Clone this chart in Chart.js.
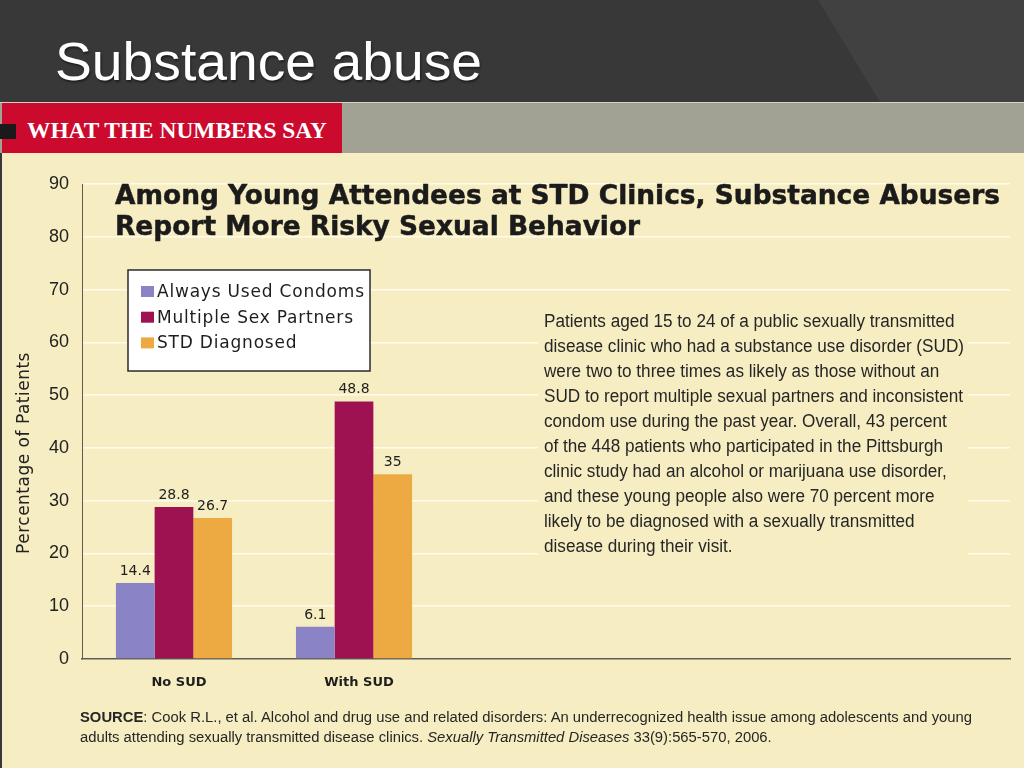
<!DOCTYPE html>
<html>
<head>
<meta charset="utf-8">
<title>Substance abuse</title>
<script src="https://cdn.jsdelivr.net/npm/chart.js@4.4.1/dist/chart.umd.min.js"></script>
<style>
  html, body { margin: 0; padding: 0; }
  body { width: 1024px; height: 768px; position: relative; overflow: hidden; background: #383838; font-family: "Liberation Sans", Arial, sans-serif; }
  #hdr2 { position: absolute; left: 0; top: 0; width: 1024px; height: 102px; background: #414141; clip-path: polygon(818px 0, 1024px 0, 1024px 102px, 880px 102px); }
  #slideTitle { position: absolute; left: 55px; top: 34px; font-size: 54px; line-height: 54px; color: #fff; white-space: nowrap; text-shadow: 1px 2px 2px rgba(0,0,0,0.45); }
  #strip { position: absolute; left: 0; top: 102px; width: 1024px; height: 51px; background: #a1a194; border-top: 1px solid #d4d4cb; box-sizing: border-box; }
  #redbox { position: absolute; left: 2px; top: 103px; width: 340px; height: 50px; background: #cc0a2e; }
  #blk { position: absolute; left: 0; top: 124px; width: 16px; height: 15px; background: #1a1a1a; }
  #banner { position: absolute; left: 27px; top: 119px; font-family: "Liberation Serif", "Times New Roman", serif; font-weight: bold; font-size: 23px; line-height: 23px; color: #fff; white-space: nowrap; }
  #panel { position: absolute; left: 2px; top: 153px; width: 1022px; height: 615px; background: #f7edc2; }
  #chartWrap { position: absolute; left: 0; top: 0; width: 1024px; height: 768px; }
  #chartTitle { position: absolute; left: 115px; top: 179px; font-family: "DejaVu Sans", Verdana, sans-serif; font-weight: bold; font-size: 26.5px; line-height: 31px; color: #1b1b1b; white-space: nowrap; -webkit-text-stroke: 0.5px #1b1b1b; }
  #chartTitle span, #para span, #source span { display: inline-block; white-space: nowrap; }
  #paraBox { position: absolute; left: 538px; top: 305px; width: 430px; height: 253px; background: #f7edc2; }
  #para { position: absolute; left: 544px; top: 309px; font-family: "Liberation Sans", Arial, sans-serif; font-size: 18px; line-height: 25px; color: #262626; white-space: nowrap; }
  #source { position: absolute; left: 80px; top: 707px; font-family: "Liberation Sans", Arial, sans-serif; font-size: 14px; line-height: 20px; color: #262626; white-space: nowrap; }
</style>
</head>
<body>
<div id="hdr2"></div>
<div id="slideTitle"><span id="slideTitleText">Substance abuse</span></div>
<div id="strip"></div>
<div id="redbox"></div>
<div id="blk"></div>
<div id="banner"><span id="bannerText">WHAT THE NUMBERS SAY</span></div>
<div id="panel"></div>
<div id="chartWrap"><canvas id="c" width="1024" height="768"></canvas></div>
<div id="chartTitle">
  <div><span id="titleL1">Among Young Attendees at STD Clinics, Substance Abusers</span></div>
  <div><span>Report More Risky Sexual Behavior</span></div>
</div>
<div id="paraBox"></div>
<div id="para">
  <div><span>Patients aged 15 to 24 of a public sexually transmitted</span></div>
  <div><span>disease clinic who had a substance use disorder (SUD)</span></div>
  <div><span>were two to three times as likely as those without an</span></div>
  <div><span id="paraL4">SUD to report multiple sexual partners and inconsistent</span></div>
  <div><span>condom use during the past year. Overall, 43 percent</span></div>
  <div><span>of the 448 patients who participated in the Pittsburgh</span></div>
  <div><span>clinic study had an alcohol or marijuana use disorder,</span></div>
  <div><span>and these young people also were 70 percent more</span></div>
  <div><span>likely to be diagnosed with a sexually transmitted</span></div>
  <div><span>disease during their visit.</span></div>
</div>
<div id="source">
  <div><span id="srcL1"><b>SOURCE</b>: Cook R.L., et al. Alcohol and drug use and related disorders: An underrecognized health issue among adolescents and young</span></div>
  <div><span>adults attending sexually transmitted disease clinics. <i>Sexually Transmitted Diseases</i> 33(9):565-570, 2006.</span></div>
</div>

<script>
// ---- data ----
const categories = ['No SUD', 'With SUD'];
const seriesNames = ['Always Used Condoms', 'Multiple Sex Partners', 'STD Diagnosed'];
const alwaysUsedCondoms = [14.4, 6.1];
const multipleSexPartners = [28.8, 48.8];
const stdDiagnosed = [26.7, 35];
const yTicks = [0, 10, 20, 30, 40, 50, 60, 70, 80, 90];
const seriesColors = ['#8a83c5', '#9f1252', '#eeaa42'];

// ---- text fitting for HTML overlays ----
function fitTo(boxId, measureId, targetW) {
  const box = document.getElementById(boxId);
  const m = document.getElementById(measureId);
  const w = m.getBoundingClientRect().width;
  if (w > 0) {
    box.style.transformOrigin = '0 0';
    box.style.transform = 'scaleX(' + (targetW / w) + ')';
  }
}
fitTo('slideTitle', 'slideTitleText', 427);
fitTo('banner', 'bannerText', 300);
fitTo('chartTitle', 'titleL1', 885);
fitTo('para', 'paraL4', 419);
fitTo('source', 'srcL1', 892);

// ---- plugins ----
const valueLabels = {
  id: 'valueLabels',
  afterDatasetsDraw(chart) {
    const ctx = chart.ctx;
    ctx.save();
    ctx.font = '14px "DejaVu Sans", Verdana, sans-serif';
    ctx.fillStyle = '#1e1e1e';
    ctx.textAlign = 'center';
    ctx.textBaseline = 'alphabetic';
    chart.data.datasets.forEach((ds, di) => {
      chart.getDatasetMeta(di).data.forEach((el, i) => {
        const v = ds.data[i].y;
        ctx.fillText(String(v), el.x, el.y - 8);
      });
    });
    ctx.restore();
  }
};

const boxLegend = {
  id: 'boxLegend',
  afterDraw(chart) {
    const ctx = chart.ctx;
    ctx.save();
    ctx.fillStyle = '#ffffff';
    ctx.fillRect(128, 270, 242, 101);
    ctx.strokeStyle = '#2a2a2a';
    ctx.lineWidth = 1.5;
    ctx.strokeRect(128, 270, 242, 101);
    ctx.font = '17px "DejaVu Sans", Verdana, sans-serif';
    if ('letterSpacing' in ctx) ctx.letterSpacing = '0.8px';
    ctx.textBaseline = 'alphabetic';
    ctx.textAlign = 'left';
    chart.data.datasets.forEach((ds, i) => {
      const base = 297 + 25.7 * i;
      ctx.fillStyle = ds.backgroundColor;
      ctx.fillRect(141, base - 11, 13, 11);
      ctx.fillStyle = '#1e1e1e';
      ctx.fillText(ds.label, 157, base);
    });
    ctx.restore();
  }
};

const yAxisTitle = {
  id: 'yAxisTitle',
  afterDraw(chart) {
    const ctx = chart.ctx;
    ctx.save();
    ctx.translate(25, 453);
    ctx.rotate(-Math.PI / 2);
    ctx.font = '17px "DejaVu Sans", Verdana, sans-serif';
    if ('letterSpacing' in ctx) ctx.letterSpacing = '0.5px';
    ctx.fillStyle = '#222';
    ctx.textAlign = 'center';
    ctx.textBaseline = 'middle';
    ctx.fillText('Percentage of Patients', 0, 0);
    ctx.restore();
  }
};

// ---- chart ----
const seriesValues = [alwaysUsedCondoms, multipleSexPartners, stdDiagnosed];
const datasets = seriesNames.map((name, s) => ({
  label: name,
  data: seriesValues[s].map((v, i) => ({ x: i, y: v })),
  backgroundColor: seriesColors[s],
  borderWidth: 0,
  categoryPercentage: 0.645,
  barPercentage: 1.0
}));

new Chart(document.getElementById('c'), {
  type: 'bar',
  data: { datasets },
  options: {
    responsive: false,
    animation: false,
    layout: { padding: { top: 184, right: 14, bottom: 69, left: 0 } },
    plugins: { legend: { display: false }, tooltip: { enabled: false }, title: { display: false } },
    scales: {
      x: {
        type: 'linear',
        min: -0.511,
        max: 4.644,
        offset: false,
        grid: { display: false },
        border: { display: true, color: '#5e5a4c', width: 1.5 },
        afterBuildTicks: s => { s.ticks = categories.map((c, i) => ({ value: i })); },
        afterFit: s => { s.height = 40; },
        ticks: {
          callback: v => categories[v] !== undefined ? categories[v] : '',
          autoSkip: false, maxRotation: 0, minRotation: 0,
          padding: 8, labelOffset: 5,
          font: { family: '"DejaVu Sans", Verdana, sans-serif', size: 13, weight: 'bold' },
          color: '#1e1e1e'
        }
      },
      y: {
        min: 0,
        max: 90,
        afterBuildTicks: s => { s.ticks = yTicks.map(v => ({ value: v })); },
        afterFit: s => { s.width = 82; },
        grid: { color: '#fffbea', lineWidth: 1.5, drawTicks: false },
        border: { display: true, color: '#5e5a4c', width: 1 },
        ticks: {
          padding: 13,
          font: { family: '"Liberation Sans", Arial, sans-serif', size: 18 },
          color: '#222'
        }
      }
    }
  },
  plugins: [valueLabels, boxLegend, yAxisTitle]
});
</script>
</body>
</html>
